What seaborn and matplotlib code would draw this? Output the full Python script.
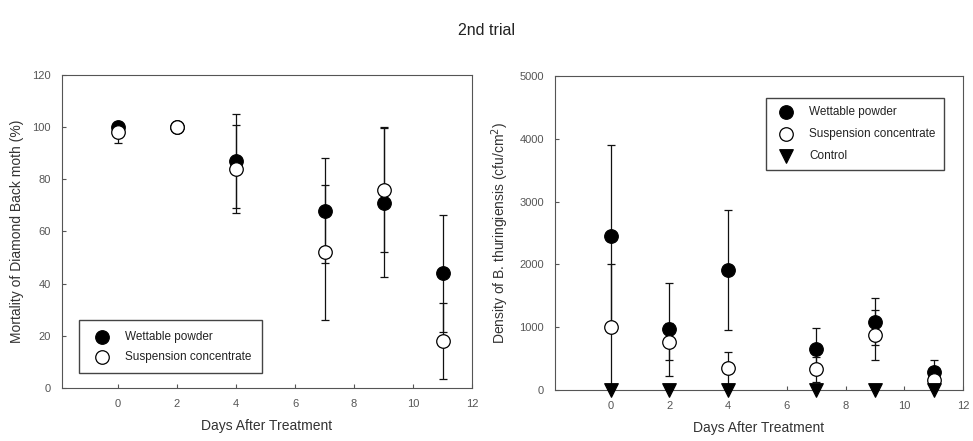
import numpy as np
import pandas as pd
import matplotlib
matplotlib.use("Agg")
import matplotlib.pyplot as plt
import seaborn as sns

# Mortality (%) - left panel
mort_days = [0, 2, 4, 7, 9, 11]
mort_wp = [100, 100, 87, 68, 71, 44]
mort_wp_err = [0, 0, 18, 20, 28.5, 22.5]
mort_sc = [98, 100, 84, 52, 76, 18]
mort_sc_err = [4, 0, 17, 26, 24, 14.5]

# Density of B. thuringiensis - right panel
dens_days = [0, 2, 4, 7, 9, 11]
dens_wp = [2450, 970, 1910, 650, 1090, 280]
dens_wp_err = [1450, 740, 960, 340, 370, 200]
dens_sc = [1000, 770, 350, 330, 880, 160]
dens_sc_err = [1000, 290, 260, 200, 400, 100]
dens_ctrl = [0, 0, 0, 0, 0, 0]

sns.set_style("ticks")
plt.rcParams["font.family"] = ["Liberation Sans", "DejaVu Sans"]
plt.rcParams["axes.edgecolor"] = "#555555"
plt.rcParams["axes.linewidth"] = 0.8
plt.rcParams["xtick.direction"] = "in"
plt.rcParams["ytick.direction"] = "in"
plt.rcParams["xtick.major.size"] = 3
plt.rcParams["ytick.major.size"] = 3
plt.rcParams["xtick.color"] = "#555555"
plt.rcParams["ytick.color"] = "#555555"
plt.rcParams["text.color"] = "#222222"
plt.rcParams["axes.labelcolor"] = "#333333"

fig = plt.figure(figsize=(9.73, 4.41), dpi=100)
ax1 = fig.add_axes([0.0637, 0.1202, 0.4214, 0.7098])
ax2 = fig.add_axes([0.5704, 0.1156, 0.4193, 0.712])

fig.text(0.5, 0.93, "2nd trial", ha="center", va="center", fontsize=11.5)

ms = 95


def draw_series(ax, days, vals, errs, marker, face, label):
    if errs is not None:
        ax.errorbar(days, vals, yerr=errs, fmt="none", ecolor="#111111",
                    elinewidth=0.9, capsize=3, capthick=0.9, zorder=2)
    df = pd.DataFrame({"day": days, "val": vals})
    sns.scatterplot(data=df, x="day", y="val", ax=ax, marker=marker, s=ms,
                    color=face, edgecolor="black", linewidth=0.9,
                    label=label, zorder=3, clip_on=False)


draw_series(ax1, mort_days, mort_wp, mort_wp_err, "o", "black", "Wettable powder")
draw_series(ax1, mort_days, mort_sc, mort_sc_err, "o", "white", "Suspension concentrate")

draw_series(ax2, dens_days, dens_wp, dens_wp_err, "o", "black", "Wettable powder")
draw_series(ax2, dens_days, dens_sc, dens_sc_err, "o", "white", "Suspension concentrate")
draw_series(ax2, dens_days, dens_ctrl, None, "v", "black", "Control")

for ax in (ax1, ax2):
    ax.set_xlim(-1.9, 12)
    ax.set_xticks(range(0, 13, 2))
    ax.tick_params(labelsize=8, top=False, right=False, pad=8)
    ax.set_xlabel("Days After Treatment", fontsize=10, labelpad=7)
    for sp in ax.spines.values():
        sp.set_visible(True)

ax1.set_ylim(0, 120)
ax1.set_yticks(range(0, 121, 20))
ax1.set_ylabel("Mortality of Diamond Back moth (%)", fontsize=10, labelpad=6)
ax1.legend(loc="lower left", bbox_to_anchor=(0.028, 0.028), fontsize=8.5,
           fancybox=False, edgecolor="#444444", framealpha=1,
           handletextpad=1.0, borderpad=0.9, labelspacing=0.65)

ax2.set_ylim(0, 5000)
ax2.set_yticks(range(0, 5001, 1000))
ax2.set_ylabel("Density of B. thuringiensis (cfu/cm$^2$)", fontsize=10, labelpad=6)
ax2.legend(loc="upper right", bbox_to_anchor=(0.968, 0.95), fontsize=8.5,
           fancybox=False, edgecolor="#444444", framealpha=1,
           handletextpad=1.0, borderpad=0.7, labelspacing=0.85)

fig.savefig("out.png", dpi=100)
